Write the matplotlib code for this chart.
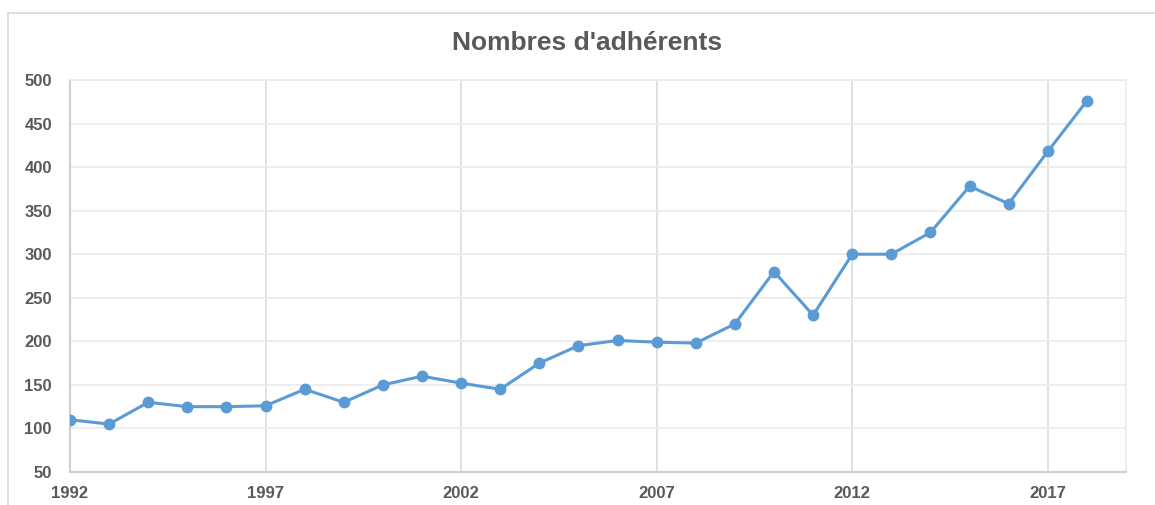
import matplotlib
matplotlib.use("Agg")
import matplotlib.pyplot as plt
from matplotlib.lines import Line2D

# data
years = list(range(1992, 2019))
adherents = [110, 105, 130, 125, 125, 126, 145, 130, 150, 160, 152, 145,
             175, 195, 201, 199, 198, 220, 280, 230, 300, 300, 325, 378,
             358, 418, 476]
xticks = [1992, 1997, 2002, 2007, 2012, 2017]
yticks = list(range(50, 501, 50))

plt.rcParams['font.family'] = ['Liberation Sans', 'DejaVu Sans']
text_col = "#595959"

fig = plt.figure(figsize=(11.55, 5.05), dpi=100)
ax = fig.add_axes([70 / 1155, 1 - 472 / 505, (1126 - 70) / 1155, (472 - 80) / 505])

ax.plot(years, adherents, color="#5B9BD5", linewidth=2.2, marker="o",
        markersize=7.5, zorder=3)

ax.set_xlim(1992, 2019)
ax.set_ylim(50, 500)
ax.set_xticks(xticks)
ax.set_yticks(yticks)
ax.tick_params(length=0, labelsize=12, labelcolor=text_col)
ax.tick_params(axis="y", pad=13)
ax.tick_params(axis="x", pad=10)
for lab in ax.get_xticklabels() + ax.get_yticklabels():
    lab.set_fontweight("bold")

ax.yaxis.grid(True, color="#ebebeb", linewidth=1.2)
ax.xaxis.grid(True, color="#dcdcdc", linewidth=1.2)
ax.set_axisbelow(True)
for side in ["top", "right"]:
    ax.spines[side].set_color("#ebebeb")
    ax.spines[side].set_linewidth(1.2)
for side in ["left", "bottom"]:
    ax.spines[side].set_color("#cfcfcf")
    ax.spines[side].set_linewidth(1.5)

fig.text(587 / 1155, 1 - 43 / 505, "Nombres d'adhérents", ha="center",
         va="center", fontsize=19, fontweight="bold", color=text_col)

# chart frame (cut off at right and bottom in the reference)
fig.add_artist(Line2D([8 / 1155, 1], [1 - 13 / 505] * 2, color="#d9d9d9", linewidth=1.2))
fig.add_artist(Line2D([8 / 1155] * 2, [0, 1 - 13 / 505], color="#d9d9d9", linewidth=1.2))

fig.savefig("out.png", dpi=100)
